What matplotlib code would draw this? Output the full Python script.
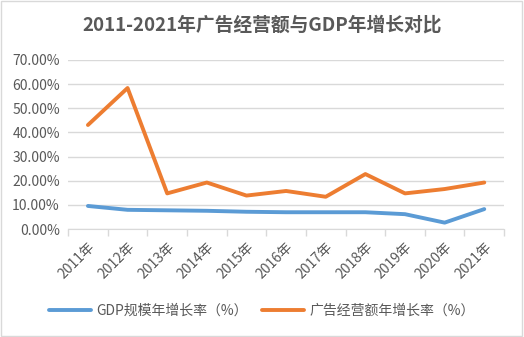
import matplotlib.pyplot as plt
from matplotlib.ticker import FuncFormatter, FixedLocator
from matplotlib.patches import Rectangle

plt.rcParams['font.family'] = ['Noto Sans CJK SC', 'DejaVu Sans']

years = ['2011年', '2012年', '2013年', '2014年', '2015年', '2016年',
         '2017年', '2018年', '2019年', '2020年', '2021年']
# 年增长率（%）
gdp_growth = [9.6, 8.0, 7.8, 7.6, 7.2, 7.0, 7.0, 7.0, 6.2, 2.7, 8.3]
ad_growth = [43.1, 58.4, 14.8, 19.3, 13.9, 15.8, 13.4, 22.8, 14.8, 16.6, 19.3]

blue = '#5b9bd5'
orange = '#ed7d31'
txt = '#595959'
grid = '#d9d9d9'

fig = plt.figure(figsize=(5.24, 3.37), dpi=100)
fig.patches.append(Rectangle((0.002, 0.003), 0.995, 0.994, transform=fig.transFigure,
                             fill=False, edgecolor='#d9d9d9', linewidth=1))
ax = fig.add_axes([0.130, 0.320, 0.832, 0.502])

x = list(range(len(years)))
ax.plot(x, [v / 100 for v in gdp_growth], color=blue, lw=2.8,
        solid_capstyle='round', label='GDP规模年增长率（%）')
ax.plot(x, [v / 100 for v in ad_growth], color=orange, lw=2.8,
        solid_capstyle='round', label='广告经营额年增长率（%）')

ax.set_xlim(-0.5, len(years) - 0.5)
ax.set_ylim(0, 0.7)
ax.set_yticks([i / 10 for i in range(8)])
ax.yaxis.set_major_formatter(FuncFormatter(lambda v, p: f'{v * 100:.2f}%'))
ax.grid(axis='y', color=grid, lw=1)
ax.set_axisbelow(True)

ax.set_xticks(x)
ax.set_xticklabels(years, rotation=45, ha='right', rotation_mode='anchor')
ax.xaxis.set_minor_locator(FixedLocator([i - 0.5 for i in range(len(years) + 1)]))
ax.tick_params(axis='x', which='major', length=0, pad=8, labelsize=10, labelcolor=txt)
ax.tick_params(axis='x', which='minor', length=5, color=grid, width=1)
ax.tick_params(axis='y', length=0, pad=6, labelsize=10, labelcolor=txt)

for s in ['top', 'right', 'left']:
    ax.spines[s].set_visible(False)
ax.spines['bottom'].set_color(grid)

fig.text(0.5, 0.925, '2011-2021年广告经营额与GDP年增长对比', ha='center', va='center',
         fontsize=13.5, fontweight='bold', color=txt)

fig.legend(loc='center', bbox_to_anchor=(0.5, 0.077), ncol=2, frameon=False,
           fontsize=10, labelcolor=txt, handlelength=3.0, columnspacing=1.0,
           handletextpad=0.4)

fig.savefig('out.png', dpi=100)
